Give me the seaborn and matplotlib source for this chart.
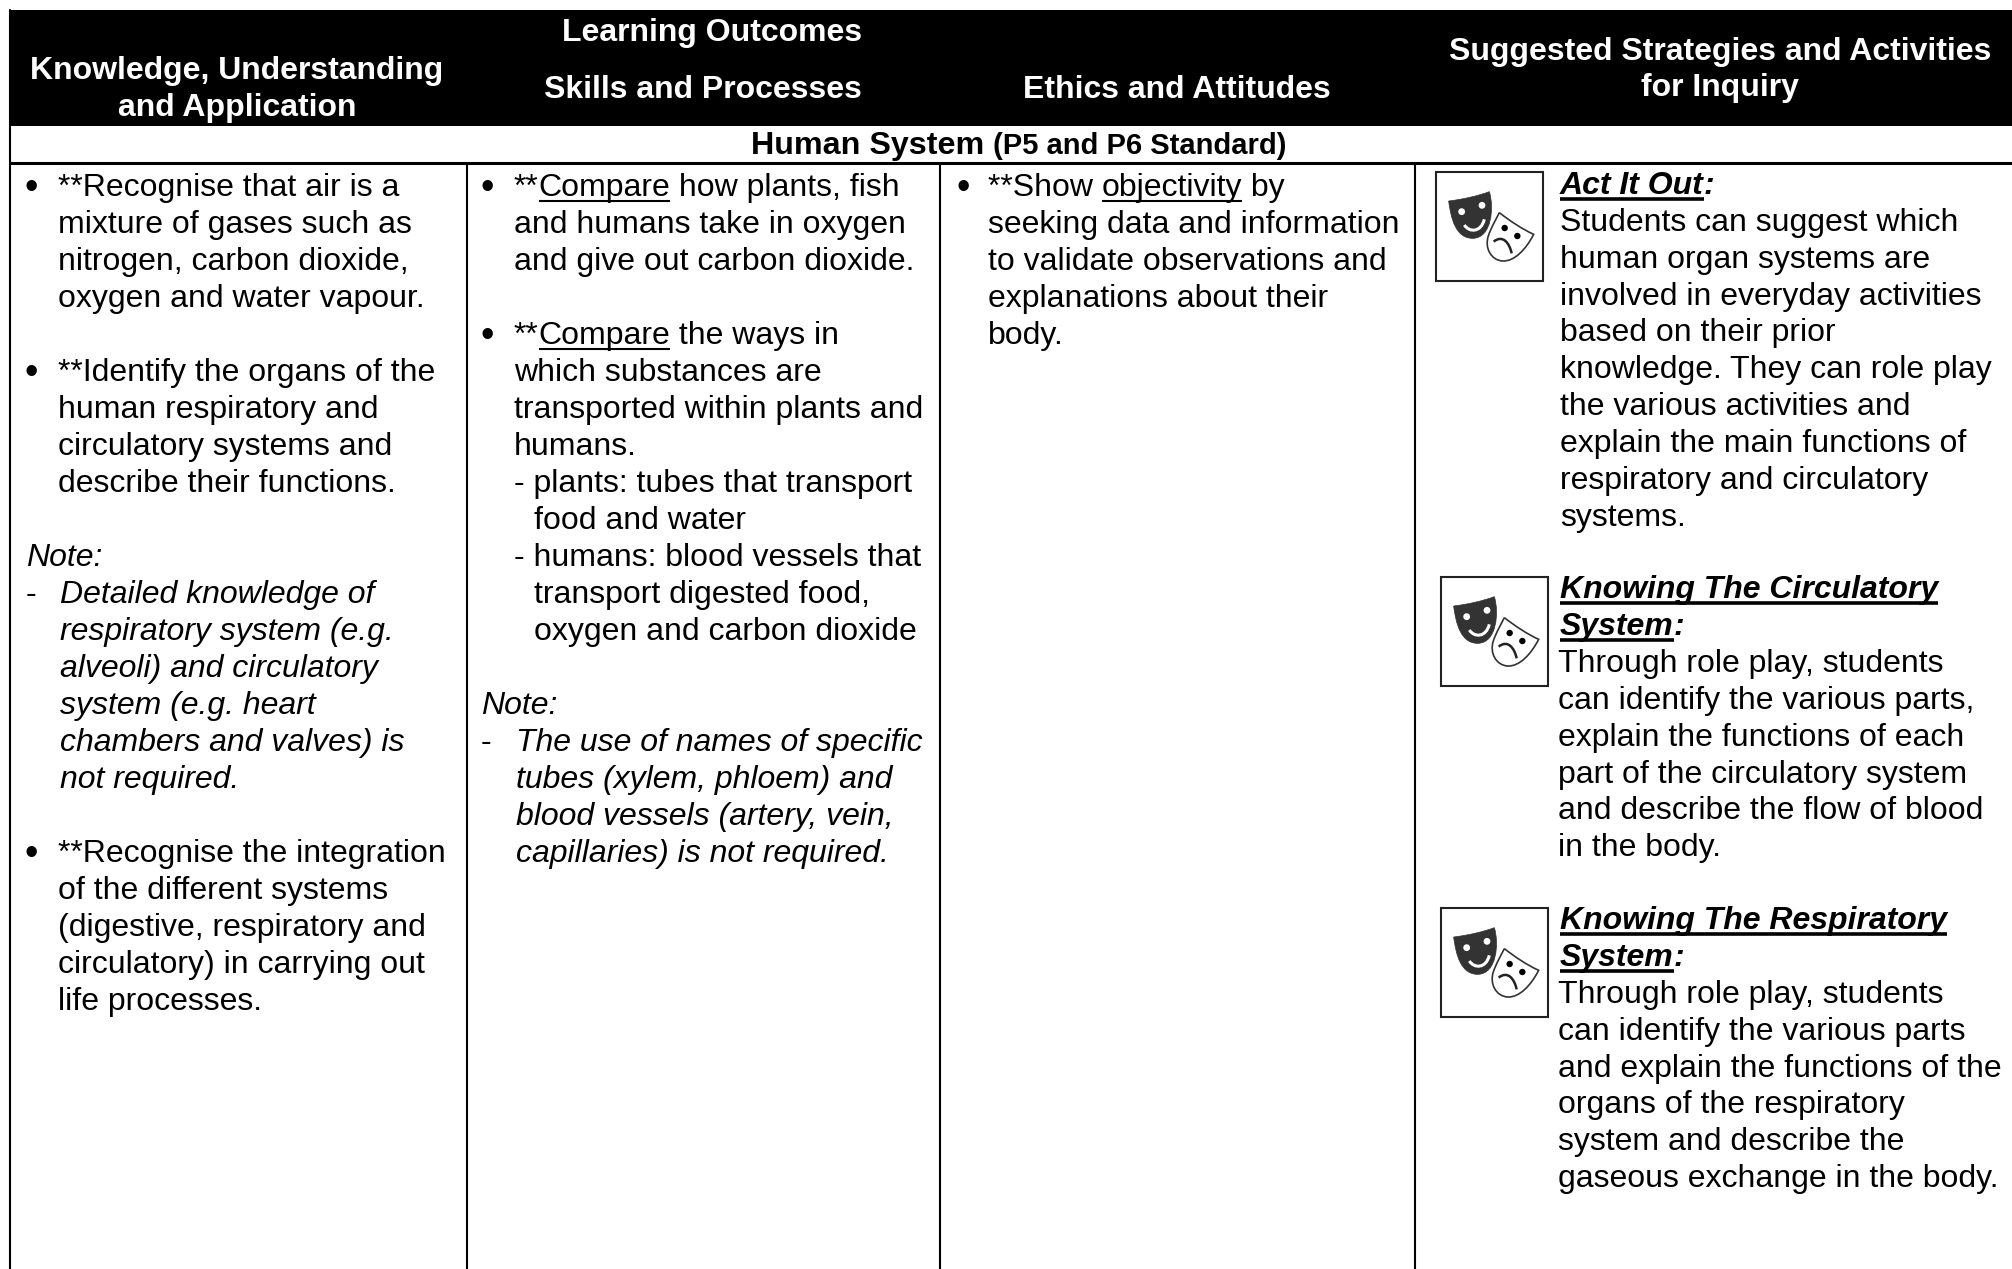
import pandas as pd
import seaborn as sns
import matplotlib.pyplot as plt
from matplotlib.patches import PathPatch, Circle, Rectangle
from matplotlib.path import Path

W, H = 2012, 1269

# line prefixes: b bullet, t text under bullet, n note, d dash+italic, i italic, s sub item, c sub item continued
col1_lines = [
    "b|**Recognise that air is a", "t|mixture of gases such as", "t|nitrogen, carbon dioxide,",
    "t|oxygen and water vapour.", "", "b|**Identify the organs of the", "t|human respiratory and",
    "t|circulatory systems and", "t|describe their functions.", "", "n|Note:",
    "d|Detailed knowledge of", "i|respiratory system (e.g.", "i|alveoli) and circulatory",
    "i|system (e.g. heart", "i|chambers and valves) is", "i|not required.", "",
    "b|**Recognise the integration", "t|of the different systems", "t|(digestive, respiratory and",
    "t|circulatory) in carrying out", "t|life processes.",
]
col2_lines = [
    "b|**_Compare_ how plants, fish", "t|and humans take in oxygen", "t|and give out carbon dioxide.", "",
    "b|**_Compare_ the ways in", "t|which substances are", "t|transported within plants and",
    "t|humans.", "s|- plants: tubes that transport", "c|food and water",
    "s|- humans: blood vessels that", "c|transport digested food,", "c|oxygen and carbon dioxide", "",
    "n|Note:", "d|The use of names of specific", "i|tubes (xylem, phloem) and",
    "i|blood vessels (artery, vein,", "i|capillaries) is not required.",
]
col3_lines = [
    "b|**Show _objectivity_ by", "t|seeking data and information", "t|to validate observations and",
    "t|explanations about their", "t|body.",
]
act_lines = [
    "h|_Act It Out_:", "p|Students can suggest which", "p|human organ systems are",
    "p|involved in everyday activities", "p|based on their prior", "p|knowledge. They can role play",
    "p|the various activities and", "p|explain the main functions of", "p|respiratory and circulatory",
    "p|systems.",
]
circ_lines = [
    "h|_Knowing The Circulatory_", "h|_System_:", "q|Through role play, students",
    "q|can identify the various parts,", "q|explain the functions of each", "q|part of the circulatory system",
    "q|and describe the flow of blood", "q|in the body.",
]
resp_lines = [
    "h|_Knowing The Respiratory_", "h|_System_:", "q|Through role play, students",
    "q|can identify the various parts", "q|and explain the functions of the", "q|organs of the respiratory",
    "q|system and describe the", "q|gaseous exchange in the body.",
]
header_texts = ["Knowledge, Understanding", "and Application", "Learning Outcomes", "Skills and Processes",
                "Ethics and Attitudes", "Suggested Strategies and Activities", "for Inquiry"]
header_x = [237, 237, 712, 703, 1177, 1720, 1720]
header_y = [79, 116, 41, 98, 98, 60, 96]
col_lines_x = [467, 940, 1415]
icon_boxes = [(1436, 172), (1441, 577), (1441, 908)]

sns.set_theme(style="white")
plt.rcParams['font.family'] = ['Liberation Sans', 'DejaVu Sans']
FS = 23.0
HEAD_FS = 23.0
SMALL_FS = 21

fig = plt.figure(figsize=(W / 100, H / 100), dpi=100, facecolor='white')
ax = fig.add_axes([0, 0, 1, 1])

# table rules
rules = [(0, 10, 10, 10, H)]
for i, x in enumerate(col_lines_x):
    rules.append((i + 1, x, 163, x, H))
rows = []
for r, x0, y0, x1, y1 in rules:
    rows += [{'rule': r, 'x': x0, 'y': y0}, {'rule': r, 'x': x1, 'y': y1}]
rule_df = pd.DataFrame(rows)
sns.lineplot(data=rule_df, x='x', y='y', units='rule', estimator=None, sort=False,
             color='black', linewidth=1.5, ax=ax, legend=False)
top_df = pd.DataFrame({'x': [10, W], 'y': [163, 163]})
sns.lineplot(data=top_df, x='x', y='y', estimator=None, sort=False,
             color='black', linewidth=2.2, ax=ax, legend=False)
ax.add_patch(Rectangle((10, 10), W - 10, 116, color='black', lw=0))
ax.set_xlim(0, W)
ax.set_ylim(H, 0)
ax.axis('off')
fig.canvas.draw()
renderer = fig.canvas.get_renderer()


def text_width(s, **kw):
    # sentinel keeps trailing spaces in the measurement
    a = ax.text(0, 0, s + '|', fontsize=kw['fontsize'], fontweight=kw.get('fontweight', 'normal'),
                fontstyle=kw.get('fontstyle', 'normal'))
    b = ax.text(0, 0, '|', fontsize=kw['fontsize'], fontweight=kw.get('fontweight', 'normal'),
                fontstyle=kw.get('fontstyle', 'normal'))
    w = a.get_window_extent(renderer).width - b.get_window_extent(renderer).width
    a.remove()
    b.remove()
    return w


def draw_runs(x, y, s, ul_width=1.5, **kw):
    # underscores toggle the underline
    under = False
    for part in s.split('_'):
        if part:
            ax.text(x, y, part, color='black', ha='left', va='baseline', **kw)
            w = text_width(part, **kw)
            if under:
                ax.plot([x, x + w], [y + 5, y + 5], color='black', lw=ul_width, solid_capstyle='butt')
            x += w
        under = not under


def draw_block(lines, xmap, y0, pitch=37.0):
    for n, line in enumerate(lines):
        if not line:
            continue
        code, s = line.split('|')
        y = y0 + n * pitch
        kw = {'fontsize': FS}
        if code in 'din':
            kw['fontstyle'] = 'italic'
        if code == 'h':
            kw['fontstyle'] = 'italic'
            kw['fontweight'] = 'bold'
        if code == 'b':
            ax.text(xmap['bullet'], y + 3, '•', color='black', ha='left', va='baseline', fontsize=FS * 1.2)
        if code == 'd':
            ax.text(xmap['n'], y, '-', color='black', ha='left', va='baseline', fontsize=FS)
        draw_runs(xmap[code], y, s, ul_width=2.6 if code == 'h' else 1.5, **kw)


draw_block(col1_lines, {'bullet': 25, 'b': 58, 't': 58, 'n': 26, 'd': 60, 'i': 60}, 196)
draw_block(col2_lines, {'bullet': 481, 'b': 514, 't': 514, 's': 514, 'c': 534, 'n': 481, 'd': 516, 'i': 516}, 196)
draw_block(col3_lines, {'bullet': 957, 'b': 988, 't': 988}, 196)
draw_block(act_lines, {'h': 1560, 'p': 1560}, 194, 36.85)
draw_block(circ_lines, {'h': 1560, 'q': 1558}, 598, 36.9)
draw_block(resp_lines, {'h': 1560, 'q': 1558}, 929, 36.9)

for s, x, y in zip(header_texts, header_x, header_y):
    ax.text(x, y, s, color='white', ha='center', va='baseline', fontsize=HEAD_FS, fontweight='bold')

# section title, two sizes
part_a, part_b = "Human System ", "(P5 and P6 Standard)"
wa = text_width(part_a, fontsize=23.2, fontweight='bold')
wb = text_width(part_b, fontsize=SMALL_FS, fontweight='bold')
xs = 1019 - (wa + wb) / 2
ax.text(xs, 154, part_a, color='black', va='baseline', fontsize=23.2, fontweight='bold')
ax.text(xs + wa, 154, part_b, color='black', va='baseline', fontsize=SMALL_FS, fontweight='bold')


def draw_icon(x0, y0):
    ax.add_patch(Rectangle((x0, y0), 107, 109, fill=False, ec='#222222', lw=1.5))

    def p(px, py):
        return (x0 + (px - 105) / 3, y0 + (py - 63) / 3)

    dark = Path([p(143, 150), p(185, 145), p(230, 135), p(265, 122),
                 p(280, 170), p(272, 262), p(215, 262),
                 p(165, 262), p(150, 205), p(143, 150)],
                [Path.MOVETO] + [Path.CURVE4] * 9)
    ax.add_patch(PathPatch(dark, fc='#333333', ec='#333333', lw=0.5))
    light = Path([p(295, 185), p(330, 212), p(365, 235), p(398, 250),
                  p(375, 295), p(340, 332), p(305, 330),
                  p(270, 328), p(250, 290), p(262, 255),
                  p(270, 230), p(285, 205), p(295, 185)],
                 [Path.MOVETO] + [Path.CURVE4] * 12)
    ax.add_patch(PathPatch(light, fc='white', ec='#333333', lw=1.2))
    for c in [(182, 182), (243, 163)]:
        ax.add_patch(Circle(p(*c), 3.4, fc='white', ec='none'))
    for c in [(311, 231), (349, 255)]:
        ax.add_patch(Circle(p(*c), 3.2, fc='black', ec='none'))
    smile = Path([p(190, 222), p(205, 245), p(240, 245), p(250, 205)], [Path.MOVETO] + [Path.CURVE4] * 3)
    ax.add_patch(PathPatch(smile, fc='none', ec='white', lw=2.2))
    frown = Path([p(278, 272), p(305, 250), p(325, 275), p(332, 307)], [Path.MOVETO] + [Path.CURVE4] * 3)
    ax.add_patch(PathPatch(frown, fc='none', ec='#222222', lw=1.8))


for bx, by in icon_boxes:
    draw_icon(bx, by)

fig.savefig('out.png', dpi=100, facecolor='white')
